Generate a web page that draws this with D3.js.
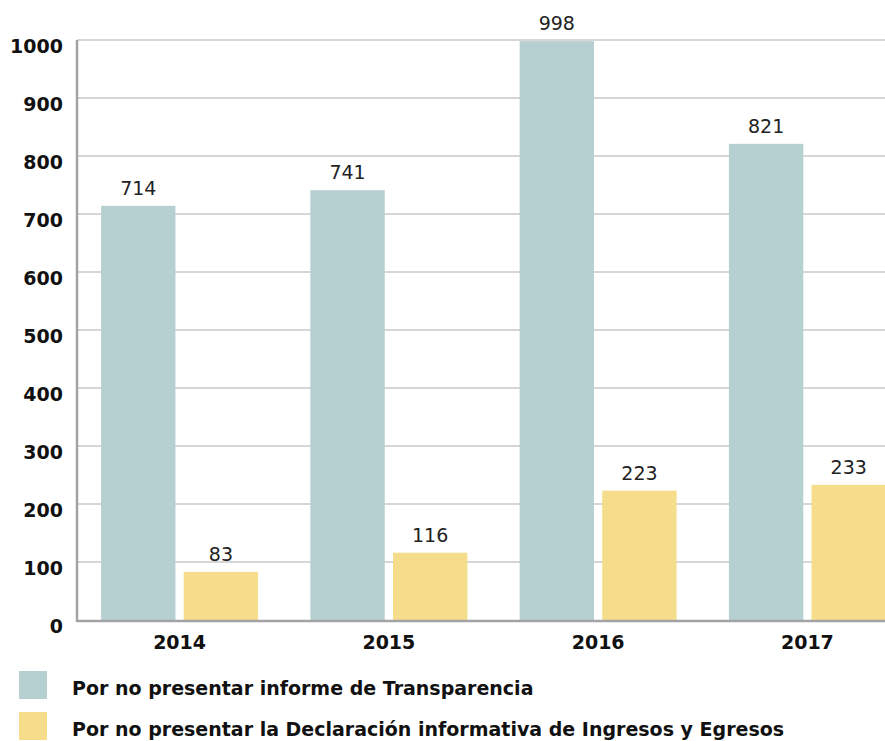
<!DOCTYPE html>
<html><head><meta charset="utf-8">
<script src="https://cdn.jsdelivr.net/npm/d3@7"></script>
<style>body{margin:0;background:#fff}svg{display:block;font-family:"DejaVu Sans",sans-serif}</style>
</head><body><svg id="c" width="885" height="741"></svg>
<script>
const years = ["2014","2015","2016","2017"];
const seriesNames = ["Por no presentar informe de Transparencia","Por no presentar la Declaración informativa de Ingresos y Egresos"];
const transparencia = [714,741,998,821];
const declaracion = [83,116,223,233];
const yTicks = [0,100,200,300,400,500,600,700,800,900,1000];
const colors = ["#b6cfd1","#f6dd8b"];

(function(){
const svg = d3.select("#c");
const mLeft = 77, mRight = 911, mTop = 40, mBottom = 620;
const x0 = d3.scaleBand().domain(years).range([mLeft-1,mRight]).paddingInner(0.25).paddingOuter(0.12);
const x1 = d3.scaleBand().domain([0,1]).range([0,x0.bandwidth()]).paddingInner(0.1);
const y = d3.scaleLinear().domain([0,1000]).range([mBottom,mTop]);

svg.append("g").selectAll("line").data(yTicks.filter(d=>d>0)).join("line")
  .attr("x1",mLeft).attr("x2",885).attr("y1",d=>y(d)).attr("y2",d=>y(d))
  .attr("stroke","#c8c8c8").attr("stroke-width",1.5);

const data = years.map((yr,i)=>({yr,vals:[transparencia[i],declaracion[i]]}));
const g = svg.append("g").selectAll("g").data(data).join("g")
  .attr("transform",d=>`translate(${x0(d.yr)},0)`);
g.selectAll("rect").data(d=>d.vals.map((v,k)=>({v,k}))).join("rect")
  .attr("x",d=>x1(d.k)).attr("width",x1.bandwidth())
  .attr("y",d=>y(d.v)).attr("height",d=>mBottom-y(d.v))
  .attr("fill",d=>colors[d.k]);
g.selectAll("text").data(d=>d.vals.map((v,k)=>({v,k}))).join("text")
  .attr("x",d=>x1(d.k)+x1.bandwidth()/2).attr("y",d=>y(d.v)-11)
  .attr("text-anchor","middle").attr("font-size",19).attr("fill","#222")
  .text(d=>d.v);

svg.append("line").attr("x1",mLeft).attr("x2",885).attr("y1",mBottom+1).attr("y2",mBottom+1)
  .attr("stroke","#a3a3a6").attr("stroke-width",2.5);
svg.append("line").attr("x1",mLeft).attr("x2",mLeft).attr("y1",mTop).attr("y2",mBottom+2)
  .attr("stroke","#a3a3a6").attr("stroke-width",2.5);

svg.append("g").selectAll("text").data(yTicks).join("text")
  .attr("x",63).attr("y",d=>y(d)+13).attr("text-anchor","end")
  .attr("font-size",19).attr("font-weight","bold").attr("fill","#111")
  .text(d=>d);

svg.append("g").selectAll("text").data(years).join("text")
  .attr("x",d=>x0(d)+x0.bandwidth()/2).attr("y",649).attr("text-anchor","middle")
  .attr("font-size",19).attr("font-weight","bold").attr("fill","#111")
  .text(d=>d);

const lg = svg.append("g").selectAll("g").data(seriesNames).join("g")
  .attr("transform",(d,i)=>`translate(19,${671+i*41})`);
lg.append("rect").attr("width",28).attr("height",28).attr("fill",(d,i)=>colors[i]);
lg.append("text").attr("x",53).attr("y",24).attr("font-size",19).attr("font-weight","bold")
  .attr("fill","#111").text(d=>d);
})();
</script></body></html>
